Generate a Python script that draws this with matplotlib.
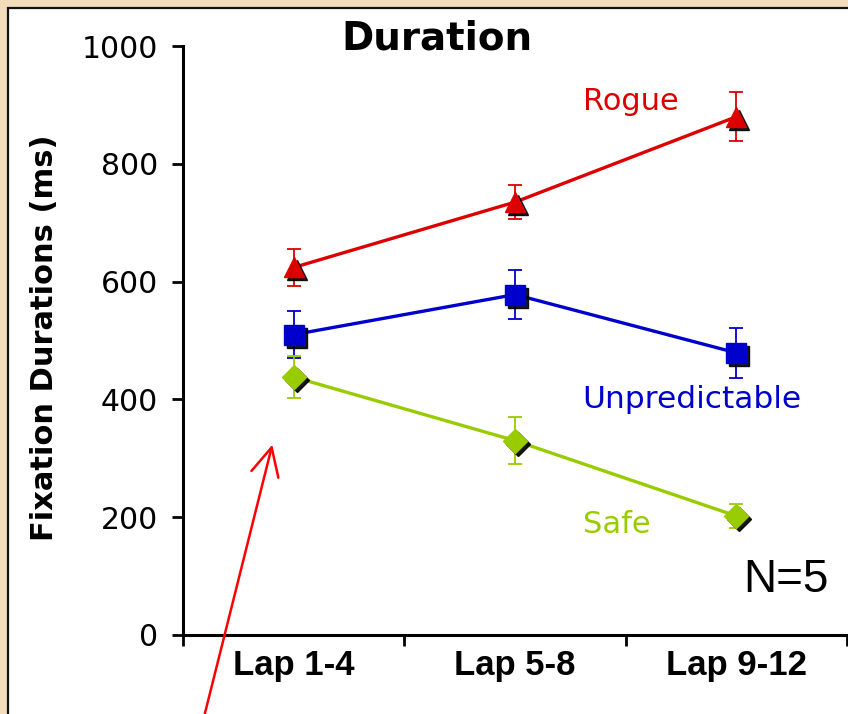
import matplotlib
matplotlib.use("Agg")
import matplotlib.pyplot as plt
from matplotlib.patches import Rectangle
from matplotlib.transforms import offset_copy

# data (ms)
laps = ["Lap 1-4", "Lap 5-8", "Lap 9-12"]
rogue = [624, 735, 880]
rogue_err = [31, 29, 42]
unpred = [510, 578, 479]
unpred_err = [40, 42, 43]
safe = [438, 330, 202]
safe_err = [35, 40, 20]

series_names = ["Rogue", "Unpredictable", "Safe"]
series_colors = ["#dd0000", "#0000cc", "#99cc00"]
series_markers = ["^", "s", "D"]

fig = plt.figure(figsize=(8.48, 7.14), dpi=100)
fig.patch.set_facecolor("#f3dcbc")

# white slide panel with dark border (runs off the right and bottom edges)
panel = Rectangle((8 / 848, -0.05), 1.1, 1 - 8 / 714 + 0.05, transform=fig.transFigure,
                  facecolor="white", edgecolor="#111111", lw=1.6, zorder=-10)
fig.patches.append(panel)

ax = fig.add_axes([183 / 848, 1 - 635 / 714, 1 - 183 / 848 - 0.001, (635 - 46) / 714])
ax.patch.set_alpha(0)
ax.set_zorder(5)

x = list(range(len(laps)))
shadow = offset_copy(ax.transData, fig=fig, x=3, y=-3, units="dots")

allvals = [(rogue, rogue_err), (unpred, unpred_err), (safe, safe_err)]
for (vals, errs), name, col, mk in zip(allvals, series_names, series_colors, series_markers):
    ms = 14
    if mk == "D":
        ms = 12
    ax.errorbar(x, vals, yerr=errs, fmt="none", ecolor=col, elinewidth=1.3,
                capsize=5, capthick=1.3, zorder=2)
    ax.plot(x, vals, color=col, lw=2.4, zorder=3)
    ax.plot(x, vals, ls="none", marker=mk, ms=ms, color="#000000", alpha=0.9,
            transform=shadow, zorder=4)
    ax.plot(x, vals, ls="none", marker=mk, ms=ms, color=col, mec=col, zorder=5)

# series labels
ax.text(1.305, 905, "Rogue", color=series_colors[0], fontsize=22, va="center", ha="left")
ax.text(1.305, 399, "Unpredictable", color=series_colors[1], fontsize=22.5, va="center", ha="left")
ax.text(1.305, 187, "Safe", color=series_colors[2], fontsize=22, va="center", ha="left")
ax.text(2.03, 93, "N=5", fontsize=33, family="Liberation Sans", va="center", ha="left")

ax.set_xlim(-0.5, 2.5)
ax.set_ylim(0, 1000)
ax.set_yticks([0, 200, 400, 600, 800, 1000])
ax.tick_params(axis="y", labelsize=21.5, length=8, width=2, direction="out", pad=10)
ax.set_xticks(x)
ax.set_xticklabels(laps, fontsize=25, fontweight="bold", family="Liberation Sans")
ax.set_xticks([-0.5, 0.5, 1.5, 2.5], minor=True)
ax.tick_params(axis="x", which="major", length=0, pad=10)
ax.tick_params(axis="x", which="minor", length=8, width=2, direction="out")

for side in ["top", "right"]:
    ax.spines[side].set_visible(False)
for side in ["left", "bottom"]:
    ax.spines[side].set_linewidth(2.2)

fig.text(45 / 848, 1 - 338 / 714, "Fixation Durations (ms)", rotation=90, fontsize=22,
         fontweight="bold", ha="center", va="center")
fig.text(437 / 848, 1 - 38 / 714, "Duration", fontsize=28, fontweight="bold",
         ha="center", va="center")

# red pointer arrow
ax.annotate("", xy=(273 / 848, 1 - 442 / 714), xytext=(202 / 848, 1 - 725 / 714),
            xycoords="figure fraction", textcoords="figure fraction",
            arrowprops=dict(arrowstyle="->,head_length=0.8,head_width=0.4",
                            color="red", lw=1.8, mutation_scale=25))

plt.savefig("out.png", dpi=100, facecolor=fig.get_facecolor())
